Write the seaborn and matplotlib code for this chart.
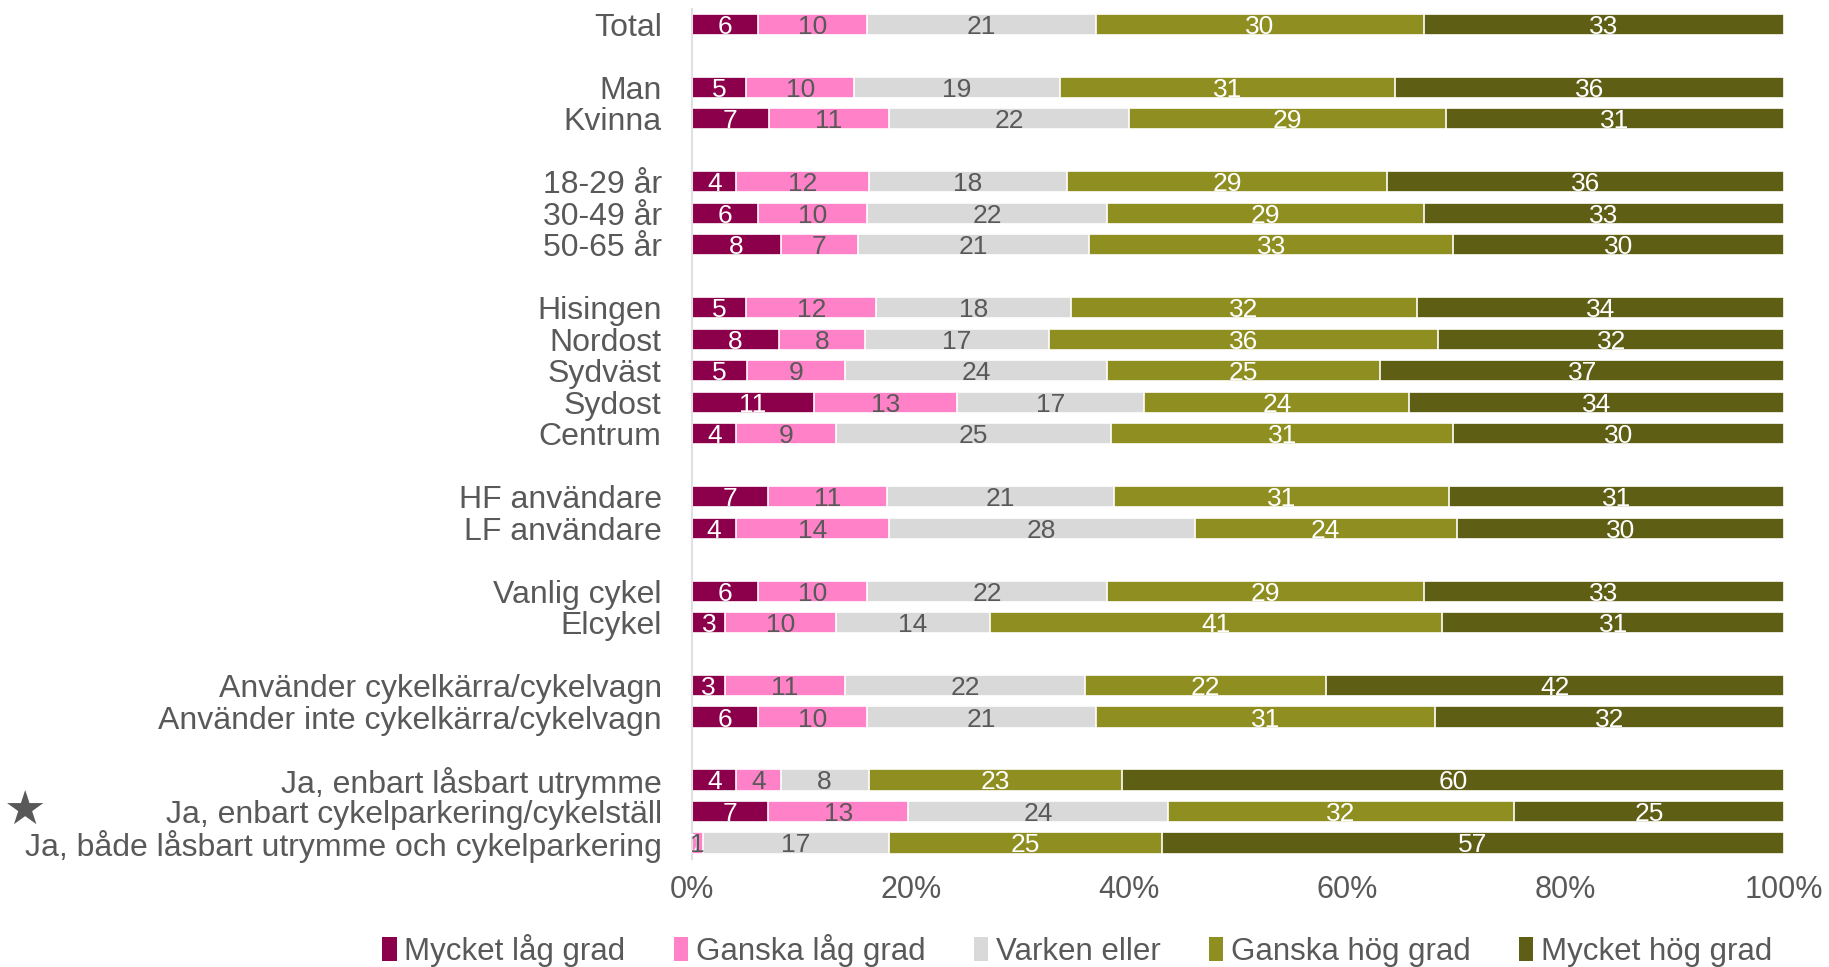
import matplotlib
matplotlib.use("Agg")
import matplotlib.pyplot as plt
from matplotlib.patches import Patch
import seaborn as sns
import pandas as pd
import numpy as np

# ---- data ----
categories = ["Total",
              "Man", "Kvinna",
              "18-29 år", "30-49 år", "50-65 år",
              "Hisingen", "Nordost", "Sydväst", "Sydost", "Centrum",
              "HF användare", "LF användare",
              "Vanlig cykel", "Elcykel",
              "Använder cykelkärra/cykelvagn", "Använder inte cykelkärra/cykelvagn",
              "Ja, enbart låsbart utrymme", "Ja, enbart cykelparkering/cykelställ",
              "Ja, både låsbart utrymme och cykelparkering"]
group_sizes = [1, 2, 3, 5, 2, 2, 2, 3]

series_names = ["Mycket låg grad", "Ganska låg grad", "Varken eller", "Ganska hög grad", "Mycket hög grad"]
mycket_lag = [6, 5, 7, 4, 6, 8, 5, 8, 5, 11, 4, 7, 4, 6, 3, 3, 6, 4, 7, 0]
ganska_lag = [10, 10, 11, 12, 10, 7, 12, 8, 9, 13, 9, 11, 14, 10, 10, 11, 10, 4, 13, 1]
varken = [21, 19, 22, 18, 22, 21, 18, 17, 24, 17, 25, 21, 28, 22, 14, 22, 21, 8, 24, 17]
ganska_hog = [30, 31, 29, 29, 29, 33, 32, 36, 25, 24, 31, 31, 24, 29, 41, 22, 31, 23, 32, 25]
mycket_hog = [33, 36, 31, 36, 33, 30, 34, 32, 37, 34, 30, 31, 30, 33, 31, 42, 32, 60, 25, 57]
tick_labels = ["0%", "20%", "40%", "60%", "80%", "100%"]

colors = ["#8C004B", "#FF82C8", "#D9D9D9", "#8F8E20", "#5E5E15"]
label_colors = ["white", "#595959", "#595959", "white", "white"]

# ---- build row order with blank spacer rows ----
rows = []
idx = 0
blank = 0
for gi, gs in enumerate(group_sizes):
    if gi > 0:
        blank += 1
        rows.append((" " * blank, None))
    for _ in range(gs):
        rows.append((categories[idx], idx))
        idx += 1
order = [r[0] for r in rows]

vals = np.array([mycket_lag, ganska_lag, varken, ganska_hog, mycket_hog], dtype=float).T
pct = vals / vals.sum(axis=1, keepdims=True) * 100
cum = np.cumsum(pct, axis=1)

sns.set_theme(style="white")
plt.rcParams["font.family"] = ["Liberation Sans", "DejaVu Sans"]

fig = plt.figure(figsize=(18.29, 9.67), dpi=100)
ax = fig.add_axes([0.3785, 0.112, 0.597, 0.879])

for s in range(4, -1, -1):
    df = pd.DataFrame({
        "cat": [r[0] for r in rows],
        "val": [cum[r[1], s] if r[1] is not None else 0.0 for r in rows],
    })
    sns.barplot(data=df, y="cat", x="val", order=order, orient="h",
                color=colors[s], saturation=1, width=0.67,
                edgecolor="white", linewidth=1.2, ax=ax, errorbar=None)

# data labels
ypos = {c: i for i, c in enumerate(order)}
for name, ri in rows:
    if ri is None:
        continue
    for s in range(5):
        left = cum[ri, s] - pct[ri, s]
        xc = left + pct[ri, s] / 2
        ax.text(xc, ypos[name], f"{int(vals[ri, s])}", ha="center", va="center_baseline",
                fontsize=19, color=label_colors[s])

ax.set_xlim(0, 100)
ax.set_ylim(len(order) - 0.5, -0.5)
ax.set_xticks([0, 20, 40, 60, 80, 100])
ax.set_xticklabels(tick_labels)
ax.set_xlabel("")
ax.set_ylabel("")
ax.tick_params(axis="both", length=0, labelcolor="#595959")
ax.tick_params(axis="x", pad=12, labelsize=22)
ax.tick_params(axis="y", pad=22, labelsize=23)
for sp in ["top", "right", "bottom"]:
    ax.spines[sp].set_visible(False)
ax.spines["left"].set_color("#E0E0E0")
ax.spines["left"].set_linewidth(1.5)

fig.text(0.0135, 0.160, "★", fontsize=34, color="#595959", ha="center", va="center",
         family=["DejaVu Sans"])

handles = [Patch(facecolor=c, edgecolor="none", label=n) for c, n in zip(colors, series_names)]
fig.legend(handles=handles, loc="center", bbox_to_anchor=(0.589, 0.017), ncol=5,
           frameon=False, fontsize=22.5, labelcolor="#595959",
           handlelength=0.45, handleheight=0.8, handletextpad=0.25, columnspacing=1.55)

fig.savefig("out.png", dpi=100)
